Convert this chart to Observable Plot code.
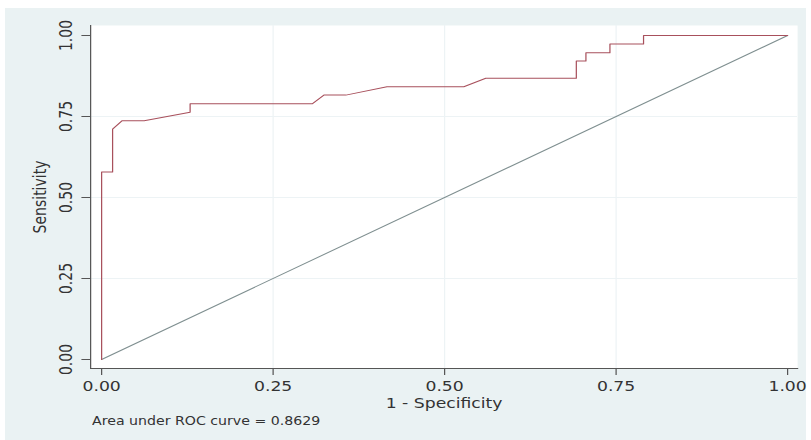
<!DOCTYPE html>
<html><head><meta charset="utf-8">
<script src="https://cdn.jsdelivr.net/npm/d3@7"></script>
<script src="https://cdn.jsdelivr.net/npm/@observablehq/plot@0.6"></script>
<style>
html,body{margin:0;padding:0;background:#fff;width:811px;height:440px;overflow:hidden;}
#bg{position:absolute;left:5px;top:8px;width:801px;height:432px;background:#eaf2f3;}
#chart{position:absolute;left:0;top:0;transform-origin:0 0;}
#caption{position:absolute;left:87px;top:406px;transform-origin:0 0;font-family:"DejaVu Sans",sans-serif;font-size:11.5px;color:#333;white-space:nowrap;}
</style></head><body>
<div id="bg"><div id="chart"></div><div id="caption"></div></div>
<script>
// ROC curve points (1 - specificity, sensitivity)
const fpr = [0, 0, 0.016, 0.016, 0.030, 0.062, 0.129, 0.129, 0.307, 0.324, 0.356, 0.416, 0.528, 0.560, 0.692, 0.692, 0.706, 0.706, 0.741, 0.741, 0.790, 0.790, 1];
const tpr = [0, 0.579, 0.579, 0.711, 0.737, 0.737, 0.763, 0.789, 0.789, 0.816, 0.816, 0.842, 0.842, 0.868, 0.868, 0.921, 0.921, 0.947, 0.947, 0.974, 0.974, 1, 1];
// reference diagonal
const diagX = [0, 1];
const diagY = [0, 1];
// ticks
const xTicks = [0, 0.25, 0.5, 0.75, 1];
const xTickLabels = ["0.00", "0.25", "0.50", "0.75", "1.00"];
const yTicks = [0, 0.25, 0.5, 0.75, 1];
const yTickLabels = ["0.00", "0.25", "0.50", "0.75", "1.00"];
const gridVals = [0.25, 0.5, 0.75];
const xTitle = "1 - Specificity";
const yTitle = "Sensitivity";
const captionText = "Area under ROC curve = 0.8629";

const roc = fpr.map((x, i) => ({x, y: tpr[i]}));
const diag = diagX.map((x, i) => ({x, y: diagY[i]}));

const S = 1.23; // horizontal stretch of the original picture
const font = '"DejaVu Sans", sans-serif';

const chart = Plot.plot({
  width: 801 / S, height: 400,
  marginLeft: 85 / S, marginRight: 9 / S, marginTop: 17, marginBottom: 40,
  insetLeft: 11 / S, insetRight: 10 / S, insetTop: 10, insetBottom: 9,
  x: {domain: [0, 1]},
  y: {domain: [0, 1]},
  style: {background: "transparent", fontFamily: font, fontSize: "14px", color: "#333", overflow: "visible"},
  marks: [
    Plot.frame({fill: "white", stroke: null}),
    Plot.gridX(gridVals, {stroke: "#edf3f5", strokeOpacity: 1}),
    Plot.gridY(gridVals, {stroke: "#edf3f5", strokeOpacity: 1}),
    Plot.axisX(xTicks, {tickSize: 7, tickPadding: 6, stroke: "#555", fontSize: 14,
      tickFormat: d => xTickLabels[xTicks.indexOf(d)],
      label: xTitle, labelAnchor: "center", labelArrow: "none", labelOffset: 40}),
    Plot.axisY(yTicks, {tickSize: 7, tickPadding: 8, tickRotate: -90, stroke: "#555", fontSize: 14,
      tickFormat: d => yTickLabels[yTicks.indexOf(d)],
      label: yTitle, labelAnchor: "center", labelArrow: "none", labelOffset: 46}),
    Plot.frame({anchor: "left", stroke: "#555"}),
    Plot.frame({anchor: "bottom", stroke: "#555"}),
    Plot.line(diag, {x: "x", y: "y", stroke: "#7f8f90", strokeWidth: 1}),
    Plot.line(roc, {x: "x", y: "y", stroke: "#a8505c", strokeWidth: 1})
  ]
});
const holder = document.getElementById("chart");
holder.style.transform = `scaleX(${S})`;
holder.appendChild(chart);
const cap = document.getElementById("caption");
cap.textContent = captionText;
cap.style.transform = `scaleX(${S})`;
</script>
</body></html>
